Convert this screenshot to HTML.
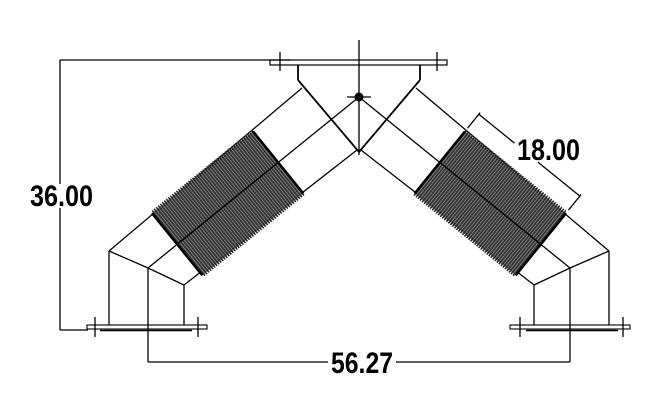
<!DOCTYPE html>
<html><head><meta charset="utf-8"><style>html,body{margin:0;padding:0;background:#fff}svg{display:block}</style></head><body>
<svg width="647" height="400" viewBox="0 0 647 400" xmlns="http://www.w3.org/2000/svg">
<defs>
<pattern id="rib" patternUnits="userSpaceOnUse" width="2.6" height="10">
<rect width="2.6" height="10" fill="#333"/>
<rect x="1.8" width="0.6" height="10" fill="#aaa"/>
</pattern>
</defs>
<g fill="none" stroke="#000" stroke-width="1.3">
<line x1="60" y1="60" x2="60" y2="184"/><line x1="60" y1="208" x2="60" y2="330"/>
<line x1="60" y1="60" x2="290" y2="60"/><line x1="60" y1="330" x2="88" y2="330"/>
<line x1="148" y1="362" x2="328" y2="362"/><line x1="396" y1="362" x2="570" y2="362"/>
<rect x="270" y="60" width="177" height="5" stroke-width="1.2"/>
<line x1="280" y1="52" x2="280" y2="71"/><line x1="437" y1="52" x2="437" y2="71"/>
<line x1="359" y1="40" x2="359" y2="155"/>
<line x1="298" y1="65" x2="298" y2="80" stroke-width="1.8"/><line x1="420" y1="65" x2="420" y2="80" stroke-width="1.8"/>
<polyline points="298,80 359,152 420,80" stroke-width="1.8"/>
<line x1="347" y1="97" x2="371" y2="97"/>
<line x1="302" y1="88" x2="109" y2="251"/>
<line x1="359" y1="97" x2="148" y2="268"/>
<line x1="357" y1="150" x2="184" y2="285"/>
<polyline points="109,251 148,268 184,285"/>
<line x1="109" y1="251" x2="109" y2="325"/><line x1="184" y1="285" x2="184" y2="325"/>
<line x1="148" y1="268" x2="148" y2="362"/>
<rect x="87" y="325" width="120" height="4" stroke-width="1.1"/>
<line x1="100" y1="330.5" x2="192" y2="330.5" stroke-width="1.5"/>
<line x1="95" y1="317" x2="95" y2="337"/><line x1="198" y1="317" x2="198" y2="337"/>
<line x1="416" y1="88" x2="609" y2="251"/>
<line x1="359" y1="97" x2="570" y2="268"/>
<line x1="361" y1="150" x2="534" y2="285"/>
<polyline points="609,251 570,268 534,285"/>
<line x1="609" y1="251" x2="609" y2="325"/><line x1="534" y1="285" x2="534" y2="325"/>
<line x1="570" y1="268" x2="570" y2="362"/>
<rect x="510" y="325" width="120" height="4" stroke-width="1.1"/>
<line x1="526" y1="330.5" x2="618" y2="330.5" stroke-width="1.5"/>
<line x1="520" y1="317" x2="520" y2="337"/><line x1="623" y1="317" x2="623" y2="337"/>
</g>
<circle cx="359" cy="97" r="4.5" fill="#000"/>
<g transform="translate(359,97) rotate(141)">
<rect x="104" y="-40" width="130" height="80" fill="url(#rib)"/>
<line x1="104" y1="-40" x2="234" y2="-40" stroke="#222" stroke-width="4" stroke-dasharray="1.5 1.1"/>
<line x1="104" y1="40" x2="234" y2="40" stroke="#222" stroke-width="4" stroke-dasharray="1.5 1.1"/>
<line x1="104" y1="-40" x2="104" y2="40" stroke="#000" stroke-width="2.5"/>
<line x1="234" y1="-40" x2="234" y2="40" stroke="#000" stroke-width="2.5"/>
<line x1="104" y1="0" x2="234" y2="0" stroke="#000" stroke-width="1.5"/>
</g>
<g transform="translate(359,97) rotate(39)">
<rect x="104" y="-40" width="130" height="80" fill="url(#rib)"/>
<line x1="104" y1="-40" x2="234" y2="-40" stroke="#222" stroke-width="4" stroke-dasharray="1.5 1.1"/>
<line x1="104" y1="40" x2="234" y2="40" stroke="#222" stroke-width="4" stroke-dasharray="1.5 1.1"/>
<line x1="104" y1="-40" x2="104" y2="40" stroke="#000" stroke-width="2.5"/>
<line x1="234" y1="-40" x2="234" y2="40" stroke="#000" stroke-width="2.5"/>
<line x1="104" y1="0" x2="234" y2="0" stroke="#000" stroke-width="1.5"/>
<g stroke="#000" stroke-width="1.3">
<line x1="104" y1="-44" x2="104" y2="-64"/><line x1="234" y1="-44" x2="234" y2="-64"/>
<line x1="104" y1="-62" x2="150" y2="-62"/><line x1="180" y1="-62" x2="234" y2="-62"/>
</g>
</g>
<g font-family="'Liberation Sans Narrow','Liberation Sans',sans-serif" font-weight="bold" font-size="30" fill="#000">
<text x="30" y="206" textLength="63" lengthAdjust="spacingAndGlyphs">36.00</text>
<text x="517" y="160" textLength="63" lengthAdjust="spacingAndGlyphs">18.00</text>
<text x="331" y="373" textLength="62" lengthAdjust="spacingAndGlyphs">56.27</text>
</g>
</svg>
</body></html>
